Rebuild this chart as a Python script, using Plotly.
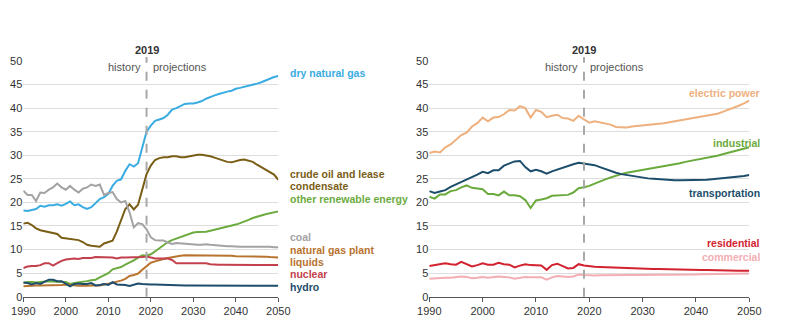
import plotly.graph_objects as go

years = list(range(1990, 2051))

# Left panel: production by source
dry_natural_gas = [18.3,18.2,18.4,18.6,19.3,19.1,19.4,19.4,19.6,19.3,19.7,20.2,19.4,19.6,19.0,18.6,19.0,19.8,20.7,21.1,
                   21.8,23.5,24.6,24.9,26.7,28.1,27.6,28.3,31.5,35.0,36.3,37.3,37.6,37.9,38.6,39.7,40.0,40.5,40.9,41.0,
                   41.0,41.2,41.5,42.0,42.4,42.7,43.0,43.3,43.5,43.7,44.1,44.3,44.5,44.8,45.0,45.2,45.5,45.9,46.3,46.6,46.8]
crude_oil = [15.5,15.7,15.2,14.5,14.1,13.9,13.7,13.6,13.3,12.5,12.4,12.3,12.2,12.0,11.6,11.0,10.8,10.7,10.6,11.3,
             11.6,11.9,13.8,16.0,18.6,19.6,18.5,19.5,22.8,26.0,27.8,29.0,29.4,29.6,29.6,29.8,29.8,29.6,29.6,29.8,
             30.0,30.1,30.1,30.0,29.8,29.5,29.2,28.8,28.6,28.5,28.8,29.0,29.1,28.9,28.6,28.0,27.5,27.0,26.5,25.9,24.8]
coal = [22.5,21.6,21.6,20.3,22.1,22.0,22.7,23.2,24.0,23.2,22.7,23.5,22.7,22.1,22.9,23.2,23.8,23.5,23.8,21.6,
        22.0,22.2,20.7,20.0,20.3,17.9,14.7,15.6,15.4,14.3,12.6,12.0,11.9,11.9,11.5,11.2,11.4,11.3,11.2,11.1,
        11.1,11.0,11.0,11.1,11.0,10.9,10.9,10.8,10.7,10.7,10.6,10.6,10.6,10.6,10.6,10.6,10.7,10.6,10.6,10.5,10.5]
other_renewable = [2.9,3.1,3.1,3.0,3.1,3.2,3.3,3.2,3.1,3.1,3.1,2.7,2.9,3.0,3.2,3.3,3.5,3.6,4.1,4.6,
                   5.0,5.8,6.0,6.3,6.8,7.2,7.7,8.3,8.8,8.7,9.0,9.6,10.3,11.0,11.6,12.0,12.3,12.6,12.9,13.2,
                   13.6,13.7,13.7,13.8,14.0,14.2,14.4,14.6,14.8,15.0,15.3,15.6,15.9,16.3,16.7,17.0,17.3,17.5,17.7,17.9,18.1]
ngpl = [2.2,2.3,2.4,2.4,2.4,2.4,2.5,2.5,2.4,2.5,2.6,2.5,2.5,2.3,2.4,2.3,2.4,2.4,2.4,2.6,
        2.7,2.9,3.2,3.4,3.8,4.4,4.6,4.9,5.7,6.5,7.2,7.5,7.8,8.0,8.2,8.4,8.6,8.7,8.8,8.8,
        8.8,8.8,8.8,8.8,8.7,8.7,8.7,8.7,8.7,8.7,8.6,8.6,8.6,8.6,8.6,8.5,8.5,8.5,8.4,8.4,8.3]
nuclear = [6.1,6.4,6.5,6.5,6.7,7.1,7.1,6.6,7.1,7.6,7.9,8.0,8.1,8.0,8.2,8.2,8.2,8.4,8.4,8.4,
           8.4,8.3,8.1,8.3,8.3,8.3,8.4,8.4,8.4,8.5,8.3,8.1,8.1,8.1,8.1,7.8,7.1,7.1,7.1,7.1,
           7.1,7.2,7.2,7.1,6.9,6.8,6.8,6.8,6.8,6.8,6.8,6.7,6.7,6.7,6.7,6.7,6.7,6.7,6.7,6.7,6.7]
hydro = [3.0,2.9,2.6,2.9,2.7,3.2,3.6,3.6,3.3,3.3,2.8,2.2,2.7,2.8,2.7,2.7,2.9,2.4,2.5,2.7,
         2.5,3.1,2.6,2.6,2.5,2.3,2.5,2.8,2.7,2.6,2.6,2.6,2.55,2.5,2.5,2.4,2.4,2.4,2.4,2.4,
         2.4,2.4,2.4,2.4,2.4,2.4,2.4,2.4,2.4,2.4,2.35,2.3,2.3,2.3,2.3,2.3,2.3,2.3,2.3,2.3,2.3]

# Right panel: consumption by sector
electric_power = [30.5,30.8,30.6,31.7,32.3,33.4,34.3,34.8,36.1,36.8,38.0,37.2,38.0,38.1,38.7,39.6,39.5,40.4,40.0,38.0,
                  39.6,39.2,38.1,38.4,38.6,37.9,37.8,37.3,38.4,37.6,36.9,37.2,37.0,36.8,36.5,36.0,35.9,35.9,36.1,36.2,
                  36.4,36.5,36.6,36.7,36.8,37.0,37.2,37.4,37.5,37.7,37.9,38.1,38.3,38.5,38.8,39.2,39.6,40.0,40.5,41.0,41.6]
industrial = [21.2,20.8,21.7,21.7,22.4,22.6,23.2,23.6,23.1,22.9,22.8,21.8,21.8,21.5,22.3,21.5,21.5,21.3,20.5,18.8,
              20.4,20.6,20.9,21.4,21.5,21.5,21.6,22.1,23.0,23.2,23.5,24.0,24.5,24.9,25.3,25.7,26.0,26.3,26.5,26.7,
              26.9,27.1,27.2,27.5,27.7,27.9,28.1,28.3,28.6,28.8,29.0,29.2,29.5,29.7,29.9,30.2,30.5,30.8,31.1,31.4,31.7]
transportation = [22.4,22.0,22.3,22.6,23.3,23.8,24.4,24.8,25.3,25.9,26.5,26.2,26.8,26.8,27.8,28.2,28.7,28.8,27.5,26.6,
                  26.9,26.6,26.1,26.6,27.0,27.4,27.8,28.1,28.4,28.2,28.1,27.9,27.5,27.1,26.6,26.3,26.0,25.8,25.6,25.4,
                  25.3,25.1,25.0,24.9,24.8,24.8,24.7,24.7,24.7,24.7,24.7,24.8,24.8,24.9,25.0,25.1,25.2,25.3,25.5,25.6,25.8]
residential = [6.5,6.7,6.9,7.1,6.9,6.8,7.4,6.9,6.4,6.7,7.1,6.8,6.8,7.2,6.9,6.8,6.2,6.6,6.9,6.7,
               6.7,6.6,5.7,6.7,7.0,6.5,6.0,6.1,6.9,6.6,6.4,6.35,6.3,6.25,6.2,6.2,6.15,6.1,6.05,6.0,
               6.0,5.95,5.9,5.9,5.85,5.8,5.8,5.75,5.7,5.7,5.7,5.65,5.65,5.6,5.6,5.6,5.55,5.55,5.5,5.5,5.5]
commercial = [3.8,3.9,3.9,4.0,4.0,4.1,4.3,4.2,3.9,4.0,4.2,4.0,4.1,4.3,4.2,4.1,3.8,4.0,4.2,4.1,
              4.1,4.1,3.6,4.1,4.4,4.3,4.2,4.3,4.7,4.6,4.5,4.5,4.55,4.55,4.55,4.6,4.6,4.6,4.6,4.6,
              4.6,4.6,4.6,4.6,4.65,4.65,4.65,4.7,4.7,4.7,4.7,4.75,4.75,4.75,4.8,4.8,4.8,4.85,4.85,4.9,4.9]

y_ticks = [0, 5, 10, 15, 20, 25, 30, 35, 40, 45, 50]
x_ticks = [1990, 2000, 2010, 2020, 2030, 2040, 2050]
split_year = 2019

W, H = 800, 327
FONT = "Liberation Sans, Arial, sans-serif"

def px(x):
    return x / W

def py(y):
    return (H - y) / H

left_series = [
    ("dry natural gas", dry_natural_gas, "#3AACE2"),
    ("crude oil and lease condensate", crude_oil, "#7A5E16"),
    ("other renewable energy", other_renewable, "#6CAB3F"),
    ("coal", coal, "#A3A3A3"),
    ("natural gas plant liquids", ngpl, "#B8732F"),
    ("nuclear", nuclear, "#C2414D"),
    ("hydro", hydro, "#1E4D6B"),
]
right_series = [
    ("electric power", electric_power, "#EDB07E"),
    ("industrial", industrial, "#6AAA3C"),
    ("transportation", transportation, "#1C4E6C"),
    ("residential", residential, "#D3222F"),
    ("commercial", commercial, "#F3AEB4"),
]

fig = go.Figure()
for name, vals, col in left_series:
    fig.add_trace(go.Scatter(x=years, y=vals, mode="lines", name=name,
                             line=dict(color=col, width=2), xaxis="x", yaxis="y"))
for name, vals, col in right_series:
    fig.add_trace(go.Scatter(x=years, y=vals, mode="lines", name=name,
                             line=dict(color=col, width=2), xaxis="x2", yaxis="y2"))

y_bot, y_top = 296.7, 61.0
ydom = [py(y_bot), py(y_top)]

axis_common_x = dict(range=[1990, 2050], tickvals=x_ticks, showgrid=False, zeroline=False, automargin=False,
                     showline=True, linecolor="#555555", linewidth=1, ticks="outside",
                     ticklen=4, tickcolor="#555555", tickfont=dict(size=11, color="#333333", family=FONT))
axis_common_y = dict(range=[0, 50], tickvals=y_ticks, showgrid=True, gridcolor="#DDDDDD", gridwidth=1,
                     zeroline=False, showline=False, ticks="", automargin=False,
                     tickfont=dict(size=11, color="#333333", family=FONT))

fig.update_layout(
    width=W, height=H, margin=dict(l=0, r=0, t=0, b=0, autoexpand=False),
    paper_bgcolor="white", plot_bgcolor="white", showlegend=False,
    font=dict(family=FONT),
    xaxis=dict(domain=[px(23.3), px(278.3)], anchor="y", **axis_common_x),
    yaxis=dict(domain=ydom, anchor="x", **axis_common_y),
    xaxis2=dict(domain=[px(429.3), px(749.3)], anchor="y2", **axis_common_x),
    yaxis2=dict(domain=ydom, anchor="x2", **axis_common_y),
)

annotations = []
shapes = []
for xr, yr in [("x", "y"), ("x2", "y2")]:
    shapes.append(dict(type="line", xref=xr, yref="paper", x0=split_year, x1=split_year,
                       y0=ydom[0], y1=py(57), line=dict(color="#A8A8A8", width=2, dash="dash")))
    annotations.append(dict(xref=xr, yref="paper", x=split_year, y=py(50), text="<b>2019</b>",
                            showarrow=False, font=dict(size=11, color="#333333"), xanchor="center", yanchor="middle"))
    annotations.append(dict(xref=xr, yref="paper", x=split_year, y=py(67), text="history",
                            showarrow=False, font=dict(size=11, color="#555555"), xanchor="right", yanchor="middle",
                            xshift=-4))
    annotations.append(dict(xref=xr, yref="paper", x=split_year, y=py(67), text="projections",
                            showarrow=False, font=dict(size=11, color="#555555"), xanchor="left", yanchor="middle",
                            xshift=4))

left_labels = [
    ("dry natural gas", 73, "#3AACE2"),
    ("crude oil and lease", 174, "#7A5E16"),
    ("condensate", 186, "#7A5E16"),
    ("other renewable energy", 199, "#6CAB3F"),
    ("coal", 237, "#A3A3A3"),
    ("natural gas plant", 250, "#B8732F"),
    ("liquids", 262, "#B8732F"),
    ("nuclear", 274, "#C2414D"),
    ("hydro", 287, "#1E4D6B"),
]
for text, yy, col in left_labels:
    annotations.append(dict(xref="paper", yref="paper", x=px(289), y=py(yy), text=f"<b>{text}</b>",
                            showarrow=False, xanchor="left", yanchor="middle", borderpad=0,
                            font=dict(size=10.5, color=col)))

right_labels = [
    ("electric power", 93, "#EDB07E"),
    ("industrial", 143, "#6AAA3C"),
    ("transportation", 193, "#1C4E6C"),
    ("residential", 243, "#D3222F"),
    ("commercial", 257, "#F3AEB4"),
]
for text, yy, col in right_labels:
    annotations.append(dict(xref="paper", yref="paper", x=px(761), y=py(yy), text=f"<b>{text}</b>",
                            showarrow=False, xanchor="right", yanchor="middle", borderpad=0,
                            font=dict(size=10.5, color=col)))

fig.update_layout(annotations=annotations, shapes=shapes)
fig.write_html("out.html")
